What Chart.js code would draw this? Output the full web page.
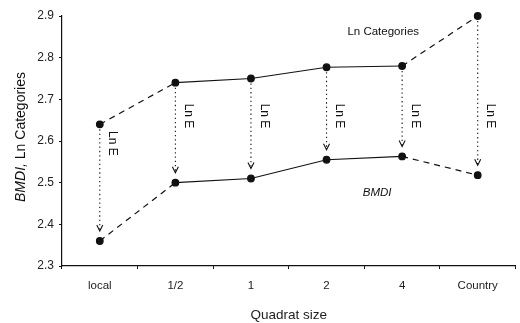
<!DOCTYPE html>
<html>
<head>
<meta charset="utf-8">
<script src="https://cdn.jsdelivr.net/npm/chart.js@4/dist/chart.umd.min.js"></script>
<style>
  html, body { margin: 0; padding: 0; background: #fff; }
  #wrap { width: 520px; height: 323px; }
</style>
</head>
<body>
<div id="wrap"><canvas id="myChart"></canvas></div>
<script>
// data
const categories = ["local", "1/2", "1", "2", "4", "Country"];
const lnCategories = [2.64, 2.74, 2.75, 2.777, 2.78, 2.9];
const bmdi = [2.36, 2.5, 2.51, 2.555, 2.563, 2.518];
const arrowLabel = "Ln E";

const FONT = "'Liberation Sans', Arial, Helvetica, sans-serif";
const INK = "#111";

// dashed at both ends, solid in the middle
const dashSeg = (ctx) =>
  ctx.p0DataIndex === 0 || ctx.p1DataIndex === categories.length - 1 ? [6, 5] : [];

var lnSet = {
  label: "Ln Categories",
  data: lnCategories,
  borderColor: INK,
  backgroundColor: INK,
  borderWidth: 1.2,
  pointRadius: 3.3,
  pointHoverRadius: 3.3,
  segment: { borderDash: dashSeg },
};

var bmdiSet = {
  label: "BMDI",
  data: bmdi,
  borderColor: INK,
  backgroundColor: INK,
  borderWidth: 1.2,
  pointRadius: 3.3,
  pointHoverRadius: 3.3,
  segment: { borderDash: dashSeg },
};

// dotted "Ln E" arrows + series labels + mixed-style y title
const annotate = {
  id: "annotate",
  afterDatasetsDraw(chart) {
    const { ctx, scales } = chart;
    const xs = scales.x, ys = scales.y;
    ctx.save();
    ctx.strokeStyle = INK;
    ctx.fillStyle = INK;
    ctx.lineWidth = 1.1;
    categories.forEach((c, i) => {
      const x = xs.getPixelForValue(i);
      const yTop = ys.getPixelForValue(lnCategories[i]);
      const yBot = ys.getPixelForValue(bmdi[i]);
      const tip = yBot - 10;
      ctx.setLineDash([1.3, 3]);
      ctx.beginPath();
      ctx.moveTo(x, yTop + 5);
      ctx.lineTo(x, tip);
      ctx.stroke();
      ctx.setLineDash([]);
      ctx.beginPath();
      ctx.moveTo(x - 3, tip - 6);
      ctx.lineTo(x, tip);
      ctx.lineTo(x + 3, tip - 6);
      ctx.stroke();
      const cy = Math.max(ys.getPixelForValue(2.66), yTop + 19);
      ctx.save();
      ctx.translate(x + 13, cy);
      ctx.rotate(Math.PI / 2);
      ctx.font = "12px " + FONT;
      ctx.textAlign = "center";
      ctx.textBaseline = "middle";
      ctx.fillText(arrowLabel, 0, 0);
      ctx.restore();
    });

    ctx.textAlign = "center";
    ctx.textBaseline = "middle";
    ctx.font = "11.5px " + FONT;
    ctx.fillText("Ln Categories", xs.getPixelForValue(3.75), ys.getPixelForValue(2.862));
    ctx.font = "italic 11.5px " + FONT;
    ctx.fillText("BMDI", xs.getPixelForValue(3.67), ys.getPixelForValue(2.476));

    // y axis title: italic BMDI, then plain text
    const t1 = "BMDI,", t2 = " Ln Categories";
    const f1 = "italic 14px " + FONT, f2 = "14px " + FONT;
    ctx.font = f1; const w1 = ctx.measureText(t1).width;
    ctx.font = f2; const w2 = ctx.measureText(t2).width;
    const mid = (chart.chartArea.top + chart.chartArea.bottom) / 2 - 4;
    ctx.save();
    ctx.translate(21, mid);
    ctx.rotate(-Math.PI / 2);
    ctx.textAlign = "left";
    ctx.font = f1;
    ctx.fillText(t1, -(w1 + w2) / 2, 0);
    ctx.font = f2;
    ctx.fillText(t2, -(w1 + w2) / 2 + w1, 0);
    ctx.restore();
    ctx.restore();
  },
};

var chartOptions = {
  responsive: true,
  maintainAspectRatio: false,
  animation: false,
  events: [],
  clip: false,
  layout: { padding: { top: 16, right: 0, left: 0, bottom: 0 } },
  plugins: { legend: { display: false }, tooltip: { enabled: false } },
  scales: {
    x: {
      type: "category",
      offset: true,
      border: { color: INK, width: 1.2 },
      grid: { offset: true, drawOnChartArea: false, tickLength: 3, color: INK },
      ticks: { color: "#222", font: { family: FONT, size: 11.5 }, padding: 10 },
      title: {
        display: true,
        text: "Quadrat size",
        color: "#222",
        font: { family: FONT, size: 13.5 },
        padding: { top: 4, bottom: 0 },
      },
      afterFit: (s) => { s.height = 57; },
    },
    y: {
      min: 2.3,
      max: 2.9,
      border: { color: INK, width: 1.2 },
      grid: { drawOnChartArea: false, tickLength: 3, color: INK },
      ticks: {
        stepSize: 0.1,
        color: "#222",
        font: { family: FONT, size: 12 },
        padding: 5,
        callback: (v) => v.toFixed(1),
      },
      afterFit: (s) => { s.width = 62; },
    },
  },
};

var ctx = document.getElementById("myChart").getContext("2d");
var myChart = new Chart(ctx, {
  type: "line",
  data: { labels: categories, datasets: [lnSet, bmdiSet] },
  options: chartOptions,
  plugins: [annotate],
});
</script>
</body>
</html>
